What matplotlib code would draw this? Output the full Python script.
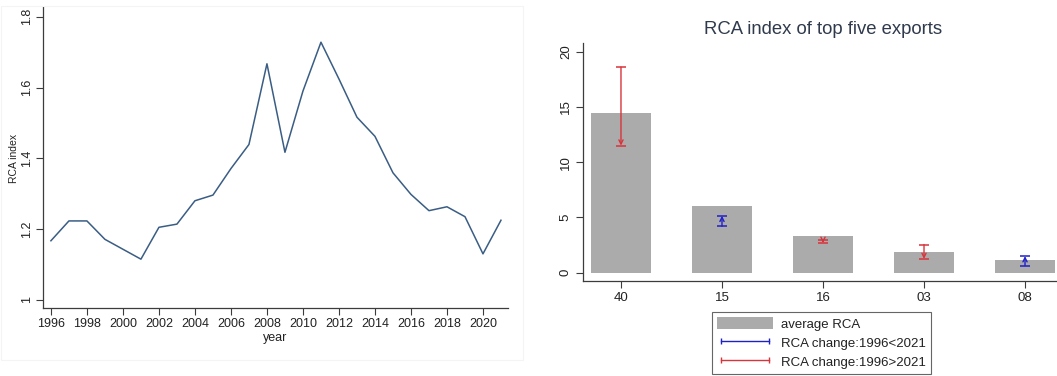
import matplotlib
matplotlib.use("Agg")
import matplotlib.pyplot as plt
from matplotlib.patches import Patch, Rectangle
from matplotlib.lines import Line2D

plt.rcParams["font.family"] = ["Liberation Sans", "DejaVu Sans"]

# ---- RCA index over time ----
years = [1996, 1997, 1998, 1999, 2000, 2001, 2002, 2003, 2004, 2005, 2006,
         2007, 2008, 2009, 2010, 2011, 2012, 2013, 2014, 2015, 2016, 2017,
         2018, 2019, 2020, 2021]
rca = [1.167, 1.223, 1.223, 1.171, 1.143, 1.115, 1.205, 1.214, 1.280, 1.296,
       1.371, 1.439, 1.667, 1.417, 1.590, 1.728, 1.624, 1.516, 1.462, 1.359,
       1.298, 1.252, 1.263, 1.235, 1.130, 1.225]
year_ticks = list(range(1996, 2021, 2))
rca_ticks = [1.0, 1.2, 1.4, 1.6, 1.8]
rca_tick_labels = ["1", "1.2", "1.4", "1.6", "1.8"]

# ---- top five exports ----
codes = ["40", "15", "16", "03", "08"]
avg_rca = [14.48, 6.06, 3.35, 1.90, 1.15]
rca_1996 = [18.6, 4.2, 2.95, 2.55, 0.65]
rca_2021 = [11.5, 5.15, 2.7, 1.25, 1.5]
bar_ticks = [0, 5, 10, 15, 20]

W, H = 1057, 376
fig = plt.figure(figsize=(W / 100, H / 100), dpi=100)
fig.patch.set_facecolor("white")

spine_c = "#3c3c3c"
text_c = "#222222"
line_c = "#3a5d84"
bar_c = "#ababab"
up_c = "#2020c8"
down_c = "#d8343c"

def frac(x0, y0, x1, y1):
    return [x0 / W, 1 - y1 / H, (x1 - x0) / W, (y1 - y0) / H]

# faint frame around the left panel
fig.add_artist(Rectangle((1 / W, 1 - 360 / H), 522 / W, 354 / H,
                         transform=fig.transFigure, fill=False,
                         edgecolor="#f4f4f4", lw=0.8))

# left panel
ax1 = fig.add_axes(frac(43, 7.3, 508, 308))
ax1.plot(years, rca, color=line_c, lw=1.1)
ax1.set_xlim(1995.56, 2021.39)
ax1.set_ylim(0.977, 1.8266)
ax1.set_xticks(year_ticks)
ax1.set_yticks(rca_ticks)
ax1.set_yticklabels(rca_tick_labels, rotation=90, va="center")
ax1.set_xlabel("year", fontsize=9, color=text_c, labelpad=2)
ax1.set_ylabel("RCA index", fontsize=7.5, color=text_c)
ax1.yaxis.set_label_coords(-0.062, 0.497)
ax1.yaxis.label.set_va("center")
for s in ["top", "right"]:
    ax1.spines[s].set_visible(False)
for s in ["left", "bottom"]:
    ax1.spines[s].set_color(spine_c)
    ax1.spines[s].set_linewidth(0.9)
ax1.tick_params(axis="both", colors=spine_c, labelcolor=text_c, length=5,
                width=0.8, labelsize=9, pad=2)

# right panel
ax2 = fig.add_axes(frac(583, 43, 1063, 281))
xpos = list(range(len(codes)))
ax2.bar(xpos, avg_rca, width=0.6, color=bar_c, zorder=1)
for x, a, b in zip(xpos, rca_1996, rca_2021):
    c = up_c if b > a else down_c
    ax2.annotate("", xy=(x, b), xytext=(x, a),
                 arrowprops=dict(arrowstyle="->,head_length=0.3,head_width=0.15",
                                 color=c, lw=1.0, shrinkA=0, shrinkB=0),
                 zorder=3)
    ax2.plot([x, x], [a, b], linestyle="none", marker="_", ms=7, mew=1.1,
             color=c, zorder=3)
ax2.set_xlim(-0.376, 4.376)
ax2.set_ylim(-0.75, 20.78)
ax2.set_xticks(xpos)
ax2.set_xticklabels(codes)
ax2.set_yticks(bar_ticks)
ax2.set_yticklabels([str(t) for t in bar_ticks], rotation=90, va="center")
for s in ["top", "right"]:
    ax2.spines[s].set_visible(False)
for s in ["left", "bottom"]:
    ax2.spines[s].set_color(spine_c)
    ax2.spines[s].set_linewidth(0.9)
ax2.tick_params(axis="both", colors=spine_c, labelcolor=text_c, length=5,
                width=0.8, labelsize=9.5, pad=3)

fig.text(823 / W, 1 - 30 / H, "RCA index of top five exports", fontsize=13.3,
         color="#2f3a4c", ha="center", va="center")

handles = [
    Patch(facecolor=bar_c, edgecolor="none"),
    Line2D([0], [0], color=up_c, lw=1.0, marker="|", ms=5, mew=1.0),
    Line2D([0], [0], color=down_c, lw=1.0, marker="|", ms=5, mew=1.0),
]
labels = ["average RCA", "RCA change:1996<2021", "RCA change:1996>2021"]
leg = fig.legend(handles, labels, loc="upper left",
                 bbox_to_anchor=(712 / W, 1 - 312 / H), fontsize=9.5,
                 frameon=True, fancybox=False, edgecolor="#404040",
                 handlelength=4.2, handleheight=1.0, numpoints=2,
                 borderpad=0.4, labelspacing=0.42, handletextpad=0.6,
                 borderaxespad=0)
leg.get_frame().set_linewidth(0.8)
for t in leg.get_texts():
    t.set_color(text_c)

fig.savefig("out.png", dpi=100, facecolor="white")
